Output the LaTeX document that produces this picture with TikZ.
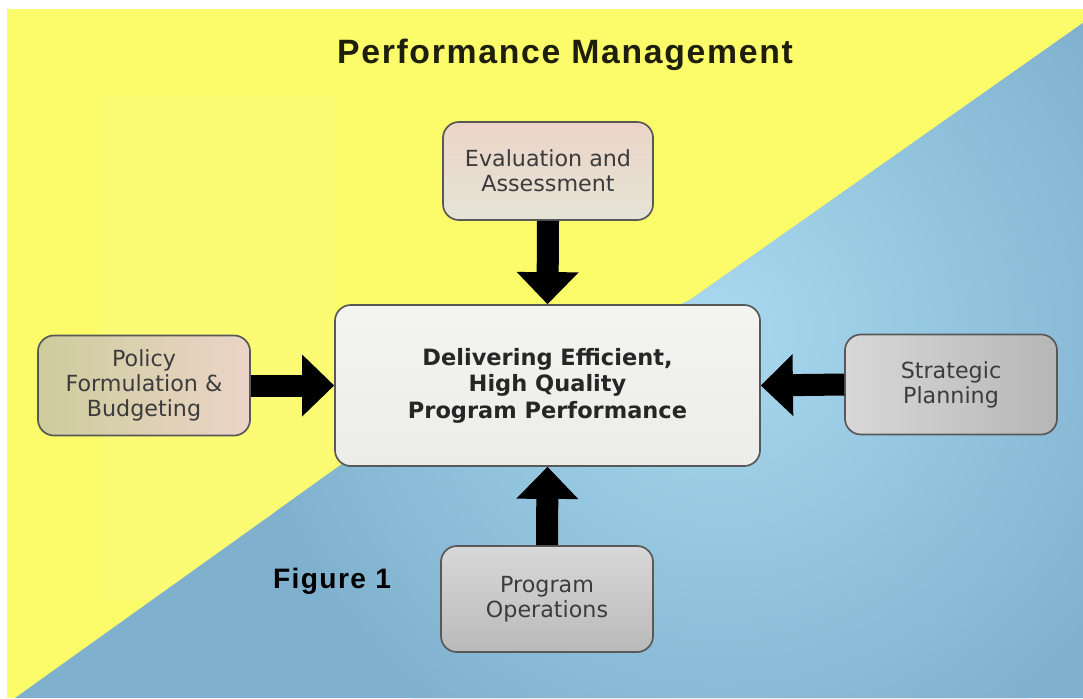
\documentclass[tikz,border=0pt]{standalone}
\usepackage{fontspec}
\setmainfont{DejaVu Sans}
\newfontfamily\headfont[LetterSpace=5]{Liberation Sans}
\usetikzlibrary{arrows.meta}
\definecolor{bgyellow}{HTML}{FCFB6A}
\definecolor{bgblue}{HTML}{7FB1CE}
\definecolor{bgglow}{HTML}{A9D9EF}
\definecolor{boxline}{HTML}{585858}
\definecolor{boxtext}{HTML}{3C3C3C}
\definecolor{titletext}{HTML}{1E1E0C}
\definecolor{pinkbox}{HTML}{ECD4C8}
\definecolor{palebox}{HTML}{E4E4D6}
\definecolor{olivebox}{HTML}{CDCC9C}
\definecolor{greylight}{HTML}{D8D8D8}
\definecolor{greydark}{HTML}{B6B6B6}
\definecolor{centrebox}{HTML}{ECECEA}
\tikzset{
  box/.style={draw=boxline, line width=1.2pt, rounded corners=0.4cm, align=center,
    text=boxtext, font=\fontsize{15.8}{17.8}\selectfont,
    minimum width=5.3cm, minimum height=2.5cm, inner sep=0pt},
  blockarrow/.style={line width=0.55cm, -{Triangle[width=1.55cm,length=0.8cm,line width=0pt]}},
}

\begin{document}
\begin{tikzpicture}[x=0.025cm,y=-0.025cm]
  \useasboundingbox (0,0) rectangle (1083,698);
  \fill[white] (0,0) rectangle (1083,698);
  \fill[bgyellow] (7,9) rectangle (1083,698);
  \fill[white,opacity=0.07] (100,95) rectangle (335,600);
  \fill[bgblue] (15,698) -- (345,462) -- (690,300) -- (1083,23) -- (1083,698) -- cycle;
  \begin{scope}
    \clip (15,698) -- (345,462) -- (690,300) -- (1083,23) -- (1083,698) -- cycle;
    \shade[inner color=bgglow, outer color=bgblue] (720,330) circle[radius=480];
  \end{scope}

  \node[font=\headfont\bfseries\fontsize{24}{28}\selectfont, text=titletext] (title) at (565,55) {Performance Management};
  \node[font=\headfont\bfseries\fontsize{20}{24}\selectfont, text=black] (fig) at (332,581) {Figure 1};

  \node[box, minimum width=10.625cm, minimum height=4.025cm, top color=centrebox!60!white, bottom color=centrebox,
    font=\bfseries\fontsize{16}{18.8}\selectfont, text=black!85] (ctr) at (547.5,385.5) {Delivering Efficient,\\High Quality\\Program Performance};
  \node[box, minimum width=5.25cm, minimum height=2.45cm, top color=pinkbox, bottom color=palebox] (eval) at (548,171) {Evaluation and\\Assessment};
  \node[box, left color=olivebox, middle color=pinkbox, right color=pinkbox] (pol) at (144,385.5) {Policy\\Formulation \&\\Budgeting};
  \node[box, left color=greylight, right color=greydark] (strat) at (951,384.5) {Strategic\\Planning};
  \node[box, minimum height=2.65cm, top color=greylight, bottom color=greydark!95!white] (ops) at (547,599) {Program\\Operations};

  \draw[blockarrow] (eval.south) -- (ctr.north);
  \draw[blockarrow] (pol.east) -- (ctr.west);
  \draw[blockarrow] (strat.west) -- (ctr.east);
  \draw[blockarrow] (ops.north) -- (ctr.south);
\end{tikzpicture}
\end{document}
